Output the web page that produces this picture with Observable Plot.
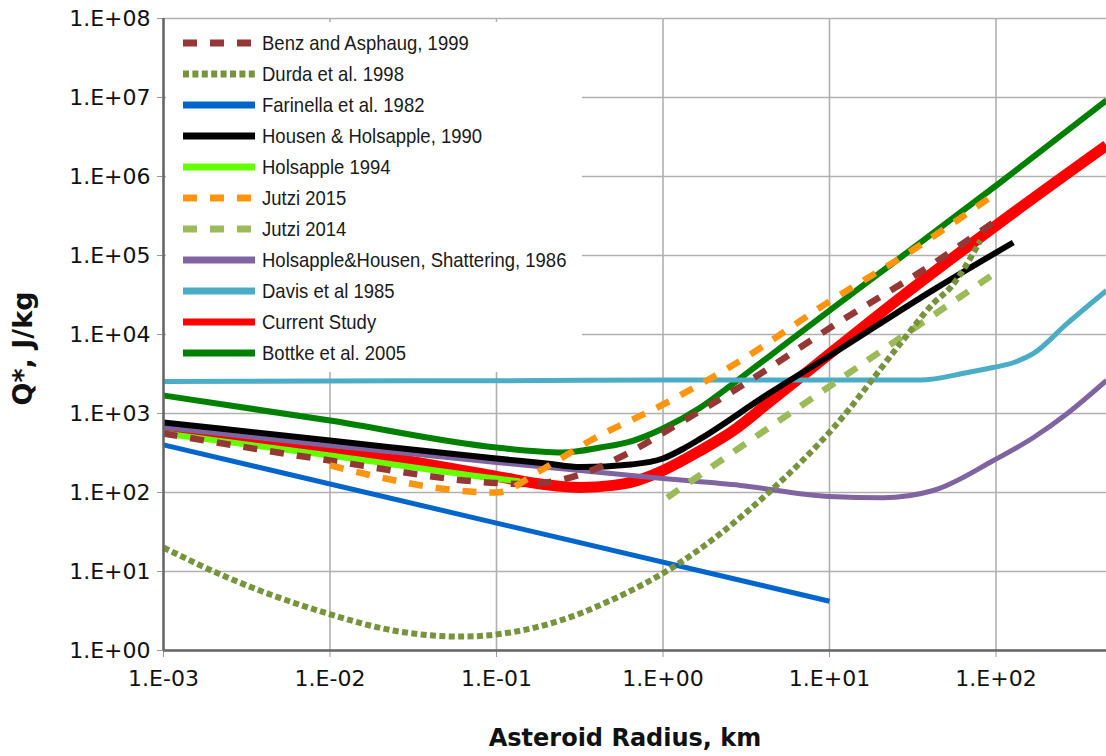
<!DOCTYPE html>
<html><head><meta charset="utf-8">
<script src="https://cdn.jsdelivr.net/npm/d3@7"></script>
<script src="https://cdn.jsdelivr.net/npm/@observablehq/plot@0.6"></script>
<style>
html,body{margin:0;padding:0;background:#fff;}
#wrap{position:relative;width:1106px;height:756px;overflow:hidden;background:#fff;}
#legend{position:absolute;left:166px;top:22px;width:416px;height:350px;background:#fff;
  font-family:"Liberation Sans",Arial,sans-serif;font-size:18.5px;color:#1a1a1a;}
.item{position:absolute;left:17px;height:31px;display:flex;align-items:center;white-space:nowrap;}
.item svg{margin-right:5px;}
.item span{display:inline-block;transform:scaleY(1.1);transform-origin:50% 50%;}
</style></head><body><div id="wrap"></div>
<script>
// ---- tick labels ----
const xTickValues = [1e-3, 1e-2, 1e-1, 1, 10, 100];
const xTickLabels = ["1.E-03", "1.E-02", "1.E-01", "1.E+00", "1.E+01", "1.E+02"];
const yTickValues = [1, 10, 100, 1e3, 1e4, 1e5, 1e6, 1e7, 1e8];
const yTickLabels = ["1.E+00", "1.E+01", "1.E+02", "1.E+03", "1.E+04", "1.E+05", "1.E+06", "1.E+07", "1.E+08"];

// ---- series (legend order) ----
const seriesNames = [
  "Benz and Asphaug, 1999", "Durda et al. 1998", "Farinella et al. 1982",
  "Housen & Holsapple, 1990", "Holsapple 1994", "Jutzi 2015", "Jutzi 2014",
  "Holsapple&Housen, Shattering, 1986", "Davis et al 1985", "Current Study", "Bottke et al. 2005"
];
const seriesColors = ["#953735", "#77933c", "#0066cc", "#000000", "#66ff00", "#ff950e",
  "#9bbb59", "#8064a2", "#4bacc6", "#ff0000", "#008000"];

// radius (km) and Q* (J/kg)
const benzR = [0.001, 0.01, 0.1, 0.15, 0.28, 0.58, 1.11, 2.92, 10.6, 42, 100];
const benzQ = [558, 254, 132, 128, 155, 294, 646, 2200, 13000, 79000, 277000];

const durdaR = [0.001, 0.00242, 0.00966, 0.024, 0.0608, 0.121, 0.242, 0.484, 1.19, 4.25, 10.6, 26.7, 42, 53.3, 80.7];
const durdaQ = [20.1, 8.4, 2.94, 1.79, 1.50, 1.69, 2.4, 4.3, 11.9, 97, 665, 7700, 24700, 39400, 155000];

const farinellaR = [0.001, 10];
const farinellaQ = [400, 4.2];

const housenR = [0.001, 0.01, 0.1, 0.2, 0.32, 0.64, 1, 1.33, 1.68, 4.25, 10.6, 42.3, 127];
const housenQ = [769, 455, 269, 233, 210, 226, 269, 360, 480, 1750, 5800, 37000, 146000];

const holsappleR = [0.001, 0.01, 0.1, 0.139];
const holsappleQ = [558, 294, 150, 138];

const jutzi15R = [0.01, 0.1, 0.184, 0.367, 1, 2.8, 10, 30, 100];
const jutzi15Q = [220, 100, 190, 455, 1300, 4420, 26200, 109000, 610000];

const jutzi14R = [1.06, 2.84, 10.6, 53.3, 100];
const jutzi14Q = [86, 361, 2400, 24700, 61000];

const shatterR = [0.001, 0.01, 0.1, 1, 2.92, 10, 21, 42, 96.6, 168, 268, 461];
const shatterQ = [665, 394, 240, 150, 123, 89, 86, 106, 254, 497, 1000, 2620];

const davisR = [0.001, 0.01, 0.1, 1, 10, 35, 67.5, 96, 128, 168, 268, 461];
const davisQ = [2550, 2580, 2600, 2650, 2650, 2650, 3300, 3820, 4420, 5750, 13800, 36000];

const currentR = [0.001, 0.01, 0.1, 0.2, 0.32, 0.5, 0.64, 1, 1.68, 2.65, 4.25, 6.7, 10.6, 26.7, 106, 461];
const currentQ = [609, 361, 160, 125, 116, 123, 134, 190, 340, 609, 1340, 2880, 6270, 29400, 262000, 2470000];

const bottkeR = [0.001, 0.01, 0.1, 0.25, 0.42, 0.665, 1, 1.68, 2.65, 4.25, 10.6, 26.7, 106, 461];
const bottkeQ = [1690, 815, 371, 321, 371, 455, 646, 1190, 2400, 5110, 22000, 94400, 840000, 9200000];

const seriesR = [benzR, durdaR, farinellaR, housenR, holsappleR, jutzi15R, jutzi14R, shatterR, davisR, currentR, bottkeR];
const seriesQ = [benzQ, durdaQ, farinellaQ, housenQ, holsappleQ, jutzi15Q, jutzi14Q, shatterQ, davisQ, currentQ, bottkeQ];

// styles
const widths = [6.5, 6, 5, 6, 6, 6.5, 6.5, 5, 5, 11, 6];
const dashes = ["14,13", "6,3.4", null, null, null, "14,13", "14,13", null, null, null, null];
const drawOrder = [9, 10, 7, 8, 3, 4, 2, 0, 5, 6, 1];

function rows(i) {
  return seriesR[i].map((r, k) => ({r, q: seriesQ[i][k]}));
}

const lineMarks = drawOrder.map(i => Plot.line(rows(i), {
  x: "r", y: "q",
  stroke: seriesColors[i],
  strokeWidth: widths[i],
  strokeDasharray: dashes[i] || undefined,
  strokeLinecap: "butt",
  strokeLinejoin: "round",
  curve: i === 2 ? "linear" : "monotone-x"
}));

const chart = Plot.plot({
  width: 1106, height: 756,
  marginLeft: 163, marginRight: 0, marginTop: 18, marginBottom: 106,
  x: {type: "log", domain: [1e-3, 461]},
  y: {type: "log", domain: [1, 1e8]},
  style: {fontFamily: "'DejaVu Sans', sans-serif", background: "white", color: "#111"},
  marks: [
    Plot.gridX(xTickValues, {stroke: "#b0b0b0", strokeOpacity: 1, strokeWidth: 1.6}),
    Plot.gridY(yTickValues, {stroke: "#b0b0b0", strokeOpacity: 1, strokeWidth: 1.6}),
    Plot.axisX(xTickValues, {
      tickFormat: d => xTickLabels[xTickValues.indexOf(d)],
      fontSize: 22, tickSize: 7, tickPadding: 13, stroke: "#999", label: null
    }),
    Plot.axisY(yTickValues, {
      tickFormat: d => yTickLabels[yTickValues.indexOf(d)],
      fontSize: 22, tickSize: 6, tickPadding: 7, stroke: "#999", label: null
    }),
    ...lineMarks,
    Plot.ruleX([1e-3], {stroke: "#666", strokeWidth: 2.5}),
    Plot.ruleY([1], {stroke: "#666", strokeWidth: 2.5}),
    Plot.text(["Asteroid Radius, km"], {
      frameAnchor: "bottom", dx: -10, dy: 95, fontSize: 24, fontWeight: "bold",
      fill: "#111", lineAnchor: "bottom"
    }),
    Plot.text(["Q*, J/kg"], {
      frameAnchor: "left", dx: -140, dy: 14, fontSize: 27, fontWeight: "bold",
      fill: "#111", rotate: -90, textAnchor: "middle", lineAnchor: "middle"
    })
  ]
});

const wrap = document.getElementById("wrap");
wrap.appendChild(chart);

// legend (HTML overlay)
const legend = document.createElement("div");
legend.id = "legend";
seriesNames.forEach((name, i) => {
  const item = document.createElement("div");
  item.className = "item";
  item.style.top = (5.5 + i * 31) + "px";
  const svg = d3.create("svg").attr("width", 74).attr("height", 10);
  svg.append("line").attr("x1", 0).attr("x2", 72).attr("y1", 5).attr("y2", 5)
    .attr("stroke", seriesColors[i]).attr("stroke-width", 7)
    .attr("stroke-dasharray", dashes[i] || null);
  item.appendChild(svg.node());
  const span = document.createElement("span");
  span.textContent = name;
  item.appendChild(span);
  legend.appendChild(item);
});
wrap.appendChild(legend);
</script>
</body></html>
